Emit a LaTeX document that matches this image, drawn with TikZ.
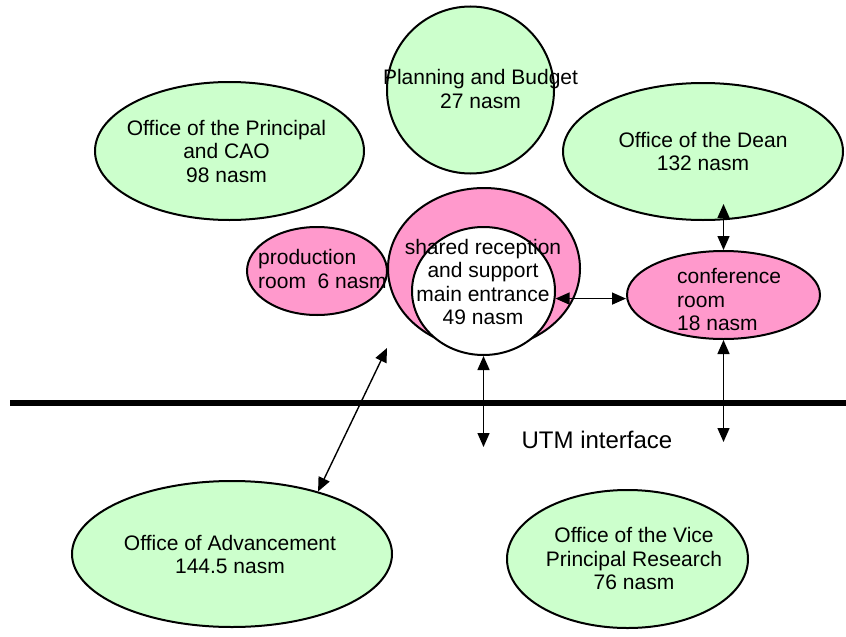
\documentclass[tikz,border=0pt]{standalone}
\usepackage{fontspec}
\setmainfont{Liberation Sans}
\usetikzlibrary{shapes.geometric,arrows.meta}
\definecolor{roomgreen}{HTML}{CCFFCC}
\definecolor{roompink}{HTML}{FF99CC}
\tikzset{
ROOM/.style={draw=black, line width=2pt, ellipse, inner sep=0pt},
GREEN/.style={ROOM, fill=roomgreen},
PINK/.style={ROOM, fill=roompink},
LABEL/.style={align=#1, font=\fontsize{21}{23.5}\selectfont, inner sep=0pt},
LABEL/.default=center,
LINK/.style={line width=1.4pt, {Triangle[length=14pt,width=12pt]}-{Triangle[length=14pt,width=12pt]}},
}

\begin{document}
\begin{tikzpicture}[x=1pt,y=-1pt]
	\useasboundingbox (0,0) rectangle (846,637);
	% offices above the interface
	\node[GREEN, minimum width=167pt, minimum height=167pt] (plan) at (470.5,90) {};
	\node[LABEL] (plan-t) at (480.5,89) {Planning and Budget\\27 nasm};
	\node[GREEN, minimum width=269pt, minimum height=138pt] (princ) at (229.5,151) {};
	\node[LABEL] (princ-t) at (226.5,151) {Office of the Principal\\and CAO\\98 nasm};
	\node[GREEN, minimum width=280pt, minimum height=137pt] (dean) at (703,151.5) {};
	\node[LABEL] (dean-t) at (dean.center) {Office of the Dean\\132 nasm};
	% pink rooms
	\node[PINK, minimum width=140pt, minimum height=88pt] (prod) at (317,271) {};
	\node[LABEL=left, anchor=west] (prod-t) at (258,269) {production\\room\ \ 6 nasm};
	\node[PINK, minimum width=192pt, minimum height=161pt] (shared) at (484,268.5) {};
	\node[ROOM, fill=white, minimum width=143pt, minimum height=128pt] (inner) at (483.5,291) {};
	\node[LABEL] (shared-t) at (483,282) {shared reception\\and support\\main entrance\\49 nasm};
	\node[PINK, minimum width=193pt, minimum height=88pt] (conf) at (723.5,295) {};
	\node[LABEL=left, anchor=west] (conf-t) at (677,300) {conference\\room\\18 nasm};
	% interface
	\draw[line width=5.5pt] (10,403) -- (846,403);
	\node[font=\fontsize{24}{28}\selectfont, inner sep=0pt] (utm) at (597,440) {UTM interface};
	% offices below the interface
	\node[GREEN, minimum width=320pt, minimum height=146pt] (adv) at (232,554) {};
	\node[LABEL] (adv-t) at (230,554.5) {Office of Advancement\\144.5 nasm};
	\node[GREEN, minimum width=241pt, minimum height=138pt] (vice) at (627.5,559) {};
	\node[LABEL] (vice-t) at (634,558.5) {Office of the Vice\\Principal Research\\76 nasm};
	% links
	\coordinate (diag-end) at (387,348);
	\coordinate (utm-a) at (483.5,447);
	\coordinate (utm-b) at (723.5,442);
	\coordinate (dean-in) at (723.5,204);
	\draw[LINK] (adv.36) -- (diag-end);
	\draw[LINK] (inner.south) -- (utm-a);
	\draw[LINK] (inner.-6) -- (inner.-6 -| conf.west);
	\draw[LINK] (conf.south) -- (utm-b);
	\draw[LINK] (conf.north) -- (dean-in);
\end{tikzpicture}
\end{document}
